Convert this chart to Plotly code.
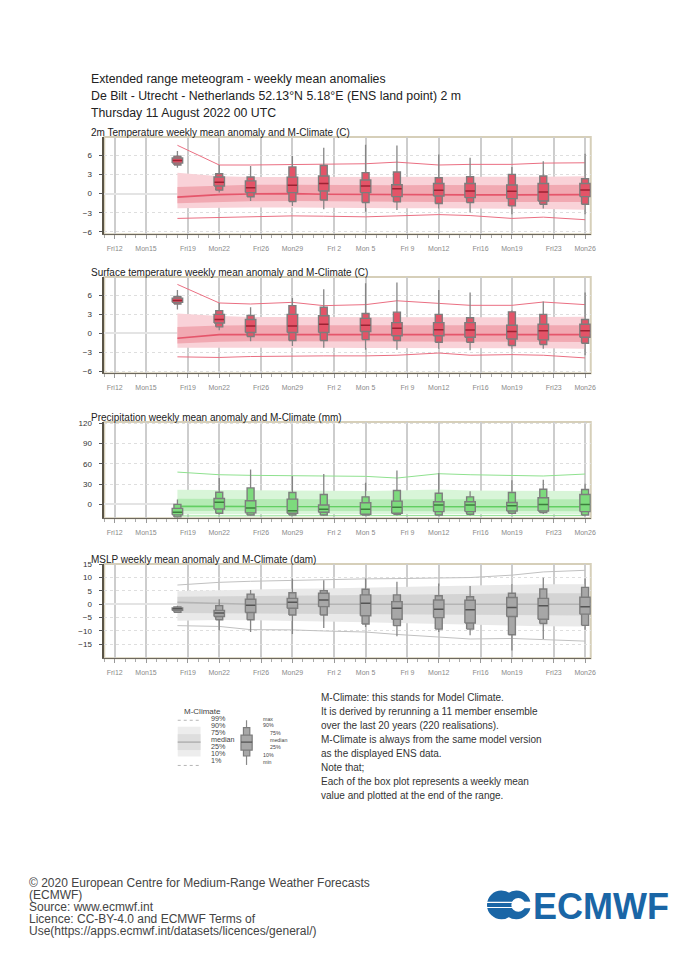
import plotly.graph_objects as go
import pandas as pd

W, H = 700, 966

# ---------------- data ----------------
box_dates = ["2022-08-18", "2022-08-22", "2022-08-25", "2022-08-29", "2022-09-01", "2022-09-05",
             "2022-09-08", "2022-09-12", "2022-09-15", "2022-09-19", "2022-09-22", "2022-09-26"]

tick_dates = ["2022-08-12", "2022-08-15", "2022-08-19", "2022-08-22", "2022-08-26", "2022-08-29",
              "2022-09-02", "2022-09-05", "2022-09-09", "2022-09-12", "2022-09-16", "2022-09-19",
              "2022-09-23", "2022-09-26"]
tick_labels = ["Fri12", "Mon15", "Fri19", "Mon22", "Fri26", "Mon29", "Fri 2", "Mon 5", "Fri 9",
               "Mon12", "Fri16", "Mon19", "Fri23", "Mon26"]

# 2m temperature (C)
t2m_max = [6.7, 4.5, 4.33, 5.9, 7.2, 7.7, 7.56, 6.15, 5.63, 4.17, 5.1, 6.26]
t2m_p90 = [5.9, 3.13, 2.62, 4.2, 4.43, 3.3, 3.4, 2.5, 2.66, 3.03, 2.76, 2.35]
t2m_p75 = [5.6, 2.61, 2.0, 2.6, 2.76, 2.14, 1.4, 1.6, 1.6, 1.35, 1.6, 1.6]
t2m_med = [5.22, 1.8, 0.94, 1.3, 1.6, 1.2, 0.78, 0.52, 0.42, 0.37, 0.26, 0.57]
t2m_p25 = [4.8, 1.2, 0.16, 0.16, 0.42, 0.16, -0.47, -0.37, -0.63, -0.78, -1.15, -0.47]
t2m_p10 = [4.5, 0.55, -0.5, -1.25, -1.0, -1.4, -1.3, -1.56, -1.4, -1.93, -1.67, -1.67]
t2m_min = [4.07, 0.16, -1.15, -1.93, -2.45, -2.87, -2.56, -2.35, -2.97, -3.23, -2.35, -3.23]
t2m_c99 = [7.6, 4.5, 4.5, 4.55, 4.6, 4.7, 4.95, 4.5, 4.6, 4.6, 4.8, 4.85]
t2m_c90 = [3.3, 2.75, 2.6, 2.6, 2.6, 2.6, 2.55, 2.6, 2.55, 2.6, 2.65, 2.75]
t2m_c75 = [1.05, 1.3, 1.4, 1.4, 1.35, 1.3, 1.3, 1.35, 1.3, 1.3, 1.35, 1.4]
t2m_c50 = [-0.55, -0.15, -0.05, 0.0, -0.1, -0.15, -0.2, -0.15, -0.2, -0.2, -0.2, -0.15]
t2m_c25 = [-1.5, -1.3, -1.2, -1.15, -1.2, -1.25, -1.3, -1.3, -1.3, -1.3, -1.3, -1.3]
t2m_c10 = [-2.3, -2.2, -2.2, -2.2, -2.25, -2.3, -2.3, -2.3, -2.3, -2.35, -2.4, -2.55]
t2m_c01 = [-3.9, -3.75, -3.6, -3.5, -3.55, -3.65, -3.5, -3.3, -3.45, -3.9, -3.7, -4.1]

# Surface temperature (C)
skt_max = [6.86, 4.8, 4.12, 5.57, 6.96, 7.9, 8.04, 6.86, 6.44, 3.6, 5.05, 6.44]
skt_p90 = [5.82, 3.6, 2.83, 4.38, 4.12, 3.14, 3.35, 3.0, 2.47, 3.4, 3.0, 2.2]
skt_p75 = [5.57, 3.0, 2.2, 3.0, 2.78, 2.37, 1.7, 1.7, 1.7, 1.29, 1.44, 1.44]
skt_med = [5.2, 2.2, 1.18, 1.18, 1.44, 1.29, 0.82, 0.57, 0.52, 0.3, 0.4, 0.4]
skt_p25 = [4.9, 1.65, 0.15, 0.15, 0.15, 0.3, -0.36, -0.36, -0.62, -0.88, -1.03, -0.62]
skt_p10 = [4.64, 1.03, -0.5, -1.13, -1.13, -0.98, -1.13, -1.4, -1.4, -1.9, -1.75, -1.55]
skt_min = [3.76, 0.5, -1.24, -2.0, -2.27, -2.58, -2.58, -2.42, -2.68, -2.42, -2.42, -3.45]
skt_c99 = [7.73, 4.8, 4.64, 4.9, 4.38, 4.54, 5.15, 4.8, 4.43, 4.43, 4.95, 4.54]
skt_c90 = [3.14, 2.73, 2.6, 2.58, 2.58, 2.58, 2.55, 2.58, 2.55, 2.55, 2.6, 2.63]
skt_c75 = [1.0, 1.25, 1.3, 1.3, 1.3, 1.25, 1.25, 1.3, 1.25, 1.25, 1.3, 1.3]
skt_c50 = [-0.77, -0.2, -0.2, -0.2, -0.2, -0.2, -0.22, -0.2, -0.22, -0.22, -0.22, -0.2]
skt_c25 = [-1.6, -1.3, -1.25, -1.25, -1.25, -1.3, -1.3, -1.3, -1.3, -1.3, -1.35, -1.35]
skt_c10 = [-2.27, -2.25, -2.25, -2.25, -2.25, -2.3, -2.3, -2.3, -2.3, -2.35, -2.35, -2.42]
skt_c01 = [-3.7, -3.8, -3.65, -3.55, -3.55, -3.55, -3.45, -3.1, -3.45, -3.35, -3.45, -3.87]

# Precipitation (mm)
tp_max = [7.3, 39, 51.7, 42, 44.9, 32.2, 50.2, 46.3, 19.5, 35.6, 36.6, 30.7]
tp_p90 = [0, 18, 24.4, 17.6, 14.6, 11.2, 20.5, 16.6, 11.2, 17.6, 22.4, 22]
tp_p75 = [-5.9, 8.8, 5.5, 7.8, -1, 2.4, 4.9, 3.9, 3.9, 2.9, 9.8, 14.6]
tp_med = [-11.7, 3.0, -5.5, -9.3, -7.3, -7.3, -4.4, -1, -1, -2, 0, 0]
tp_p25 = [-15.5, -6.9, -12.5, -13.2, -11.7, -14.6, -13.2, -10.7, -10.7, -9.8, -9.8, -10.7]
tp_p10 = [-18.5, -13.2, -15.6, -15.6, -15.6, -15.6, -14.6, -15.6, -14.6, -13.2, -12.2, -15.6]
tp_min = [-19.5, -14.8, -16.6, -16.6, -16.6, -16.6, -16.6, -16.6, -16.6, -14.6, -14.1, -16.6]
tp_c99 = [47.8, 43.9, 43.0, 42.5, 42.0, 41.5, 39.0, 45.4, 43.9, 42.9, 42.0, 44.9]
tp_c90 = [21.5, 21.0, 20.5, 20.5, 20.0, 20.0, 20.5, 22.0, 20.5, 20.0, 20.0, 20.0]
tp_c75 = [8.5, 8.0, 7.5, 7.5, 7.5, 7.5, 7.5, 8.0, 7.5, 7.5, 7.5, 7.5]
tp_c50 = [-3.0, -3.0, -3.2, -3.3, -3.3, -3.3, -3.4, -3.0, -3.2, -3.3, -3.3, -3.3]
tp_c25 = [-9.8, -9.8, -10, -10, -10, -10, -10.2, -9.8, -10, -10, -10, -10]
tp_c10 = [-14.6, -14.6, -14.8, -14.8, -14.8, -14.8, -15, -14.6, -14.8, -14.8, -14.8, -14.8]
tp_c01 = [-17.1, -16.8, -16.6, -16.6, -16.6, -16.6, -16.6, -16.6, -16.6, -16.6, -16.6, -16.6]

# MSLP (dam)
msl_max = [-0.6, 1.85, 5.3, 9.6, 9.0, 9.6, 8.4, 7.8, 6.8, 7.5, 9.9, 9.6]
msl_p90 = [-1.0, -0.5, 3.8, 4.3, 5.1, 5.6, 3.5, 3.2, 2.8, 4.1, 5.7, 6.3]
msl_p75 = [-1.4, -2.3, 1.85, 2.2, 4.1, 3.5, 1.0, 1.6, 1.5, 2.5, 2.2, 2.6]
msl_med = [-1.7, -3.3, -0.4, 0.74, 1.6, 0.4, -1.5, -1.85, -2.1, -1.2, -0.6, -0.9]
msl_p25 = [-2.3, -4.6, -3.1, -1.5, -0.9, -4.3, -5.6, -5.0, -7.0, -4.6, -5.6, -3.7]
msl_p10 = [-3.0, -5.8, -5.8, -4.0, -4.0, -7.4, -8.0, -9.3, -9.3, -11.4, -7.2, -7.9]
msl_min = [-3.3, -9.8, -10.4, -11.1, -8.9, -8.5, -12.0, -10.4, -11.6, -17.3, -13.0, -9.5]
msl_c99 = [7.2, 8.2, 8.6, 9.0, 9.3, 9.5, 9.6, 9.8, 10.0, 10.9, 12.1, 12.7]
msl_c90 = [4.9, 5.3, 5.6, 5.8, 5.9, 6.2, 6.5, 6.8, 7.1, 7.4, 7.5, 7.5]
msl_c75 = [2.8, 3.0, 3.2, 3.3, 3.4, 3.5, 3.6, 3.8, 3.9, 4.0, 4.1, 4.1]
msl_c50 = [0.7, 0.2, 0.0, 0.0, 0.0, 0.0, 0.0, 0.0, 0.0, 0.0, 0.0, 0.0]
msl_c25 = [-3.3, -3.4, -3.5, -3.6, -3.7, -3.8, -3.9, -4.0, -4.1, -4.1, -4.2, -4.2]
msl_c10 = [-6.2, -5.9, -6.0, -6.2, -6.4, -6.7, -7.0, -7.4, -7.7, -8.0, -8.2, -8.3]
msl_c01 = [-8.0, -8.3, -9.5, -9.6, -10.0, -10.4, -11.3, -12.3, -13.0, -12.8, -13.2, -13.8]

panel_titles = ["2m Temperature weekly mean anomaly and M-Climate (C)",
                "Surface temperature weekly mean anomaly and M-Climate (C)",
                "Precipitation weekly mean anomaly and M-Climate (mm)",
                "MSLP weekly mean anomaly and M-Climate (dam)"]

header_lines = ["Extended range meteogram - weekly mean anomalies",
                "De Bilt - Utrecht - Netherlands 52.13°N 5.18°E (ENS land point) 2 m",
                "Thursday 11 August 2022 00 UTC"]

note_lines = ["M-Climate: this stands for Model Climate.",
              "It is derived by rerunning a 11 member ensemble",
              "over the last 20 years (220 realisations).",
              "M-Climate is always from the same model version",
              "as the displayed ENS data.",
              "Note that;",
              "Each of the box plot represents a weekly mean",
              "value and plotted at the end of the range."]

footer_lines = ["© 2020 European Centre for Medium-Range Weather Forecasts",
                "(ECMWF)",
                "Source: www.ecmwf.int",
                "Licence: CC-BY-4.0 and ECMWF Terms of",
                "Use(https://apps.ecmwf.int/datasets/licences/general/)"]

key_left_labels = ["99%", "90%", "75%", "median", "25%", "10%", "1%"]
key_right_labels = ["max", "90%", "75%", "median", "25%", "10%", "min"]

# ---------------- helpers ----------------
FONT = "Liberation Sans, Arial, sans-serif"


def px(x):
    return x / W


def py(y):
    return 1 - y / H


dts = pd.to_datetime(box_dates)
HALF_WIDE = pd.Timedelta(hours=12)
HALF_NARROW = pd.Timedelta(hours=8)


def rects(lo, hi, half):
    xs, ys = [], []
    for d, a, b in zip(dts, lo, hi):
        xs += [d - half, d + half, d + half, d - half, d - half, None]
        ys += [a, a, b, b, a, None]
    return xs, ys


def segs_h(vals, half):
    xs, ys = [], []
    for d, v in zip(dts, vals):
        xs += [d - half, d + half, None]
        ys += [v, v, None]
    return xs, ys


def segs_v(lo, hi):
    xs, ys = [], []
    for d, a, b in zip(dts, lo, hi):
        xs += [d, d, None]
        ys += [a, b, None]
    return xs, ys


panels = [
    dict(data=(t2m_max, t2m_p90, t2m_p75, t2m_med, t2m_p25, t2m_p10, t2m_min),
         clim=(t2m_c99, t2m_c90, t2m_c75, t2m_c50, t2m_c25, t2m_c10, t2m_c01),
         top=134, bot=232, rng=[-6.4, 8.9], ticks=[-6, -3, 0, 3, 6],
         fill="#e35468", med="#9c2233", outer="#f9d2d8", inner="#f1a9b2",
         cmed="#e5566b", cext="#ea6f82"),
    dict(data=(skt_max, skt_p90, skt_p75, skt_med, skt_p25, skt_p10, skt_min),
         clim=(skt_c99, skt_c90, skt_c75, skt_c50, skt_c25, skt_c10, skt_c01),
         top=275, bot=372, rng=[-6.3, 8.9], ticks=[-6, -3, 0, 3, 6],
         fill="#e35468", med="#9c2233", outer="#f9d2d8", inner="#f1a9b2",
         cmed="#e5566b", cext="#ea6f82"),
    dict(data=(tp_max, tp_p90, tp_p75, tp_med, tp_p25, tp_p10, tp_min),
         clim=(tp_c99, tp_c90, tp_c75, tp_c50, tp_c25, tp_c10, tp_c01),
         top=421, bot=518, rng=[-20.5, 122], ticks=[0, 30, 60, 90, 120],
         fill="#7ddb7d", med="#3d7f3d", outer="#d8f5d8", inner="#b5ebb5",
         cmed="#62cf62", cext="#8fe18f"),
    dict(data=(msl_max, msl_p90, msl_p75, msl_med, msl_p25, msl_p10, msl_min),
         clim=(msl_c99, msl_c90, msl_c75, msl_c50, msl_c25, msl_c10, msl_c01),
         top=564, bot=659, rng=[-20.2, 15.1], ticks=[-15, -10, -5, 0, 5, 10, 15],
         fill="#a7a7a7", med="#555555", outer="#e9e9e9", inner="#d4d4d4",
         cmed="#b4b4b4", cext="#c0c0c0"),
]

fig = go.Figure()
shapes = []
annotations = []
layout = {}

for i, p in enumerate(panels, start=1):
    xa = "x" if i == 1 else f"x{i}"
    ya = "y" if i == 1 else f"y{i}"
    mx, p90, p75, md, p25, p10, mn = p["data"]
    c99, c90, c75, c50, c25, c10, c01 = p["clim"]
    common = dict(xaxis=xa, yaxis=ya, showlegend=False, hoverinfo="skip")

    # climate bands
    fig.add_trace(go.Scatter(x=dts, y=c10, mode="lines", line=dict(width=0), **common))
    fig.add_trace(go.Scatter(x=dts, y=c90, mode="lines", line=dict(width=0), fill="tonexty",
                             fillcolor=p["outer"], **common))
    fig.add_trace(go.Scatter(x=dts, y=c25, mode="lines", line=dict(width=0), **common))
    fig.add_trace(go.Scatter(x=dts, y=c75, mode="lines", line=dict(width=0), fill="tonexty",
                             fillcolor=p["inner"], **common))
    fig.add_trace(go.Scatter(x=dts, y=c50, mode="lines", line=dict(color=p["cmed"], width=1.6), **common))
    fig.add_trace(go.Scatter(x=dts, y=c99, mode="lines", line=dict(color=p["cext"], width=1), **common))
    fig.add_trace(go.Scatter(x=dts, y=c01, mode="lines", line=dict(color=p["cext"], width=1), **common))

    # whiskers
    wx, wy = segs_v(mn, mx)
    fig.add_trace(go.Scatter(x=wx, y=wy, mode="lines", line=dict(color="#858585", width=1.3), **common))
    # narrow 10-90 boxes
    bx, by = rects(p10, p90, HALF_NARROW)
    fig.add_trace(go.Scatter(x=bx, y=by, mode="lines", fill="toself", fillcolor=p["fill"],
                             line=dict(color="#7d7d7d", width=1.4), **common))
    # wide 25-75 boxes
    bx, by = rects(p25, p75, HALF_WIDE)
    fig.add_trace(go.Scatter(x=bx, y=by, mode="lines", fill="toself", fillcolor=p["fill"],
                             line=dict(color="#7d7d7d", width=1.4), **common))
    # medians
    mxs, mys = segs_h(md, HALF_WIDE - pd.Timedelta(hours=1))
    fig.add_trace(go.Scatter(x=mxs, y=mys, mode="lines", line=dict(color=p["med"], width=1.5), **common))

    layout["xaxis" if i == 1 else f"xaxis{i}"] = dict(
        domain=[px(105), px(595)], anchor=ya, type="date",
        range=["2022-08-11 00:00", "2022-09-26 13:00"],
        tickvals=tick_dates, ticktext=tick_labels,
        showgrid=True, gridcolor="#cdcdcd", gridwidth=1.5,
        ticks="outside", ticklen=4, tickcolor="#999999", ticklabelstandoff=3,
        tickfont=dict(size=7, color="#8a8a8a", family=FONT),
        showline=True, linecolor="#6d685e", linewidth=1.2, zeroline=False,
        minor=dict(dtick=86400000, ticks="outside", ticklen=3, tickcolor="#aaaaaa", showgrid=False),
        fixedrange=True)
    layout["yaxis" if i == 1 else f"yaxis{i}"] = dict(
        domain=[py(p["bot"]), py(p["top"])], anchor=xa, range=p["rng"],
        tickvals=p["ticks"], showgrid=True, gridcolor="#dedede", griddash="dot", gridwidth=1,
        ticks="outside", ticklen=4, tickcolor="#555555", ticklabelstandoff=5,
        tickfont=dict(size=8, color="#333333", family=FONT),
        showline=True, linecolor="#5a5446", linewidth=1.5,
        zeroline=True, zerolinecolor="#e4e4e4", zerolinewidth=1.5, fixedrange=True)

    # frame (tan top / right)
    shapes.append(dict(type="rect", xref=f"{xa} domain", yref=f"{ya} domain", x0=0, x1=1, y0=0, y1=1,
                       line=dict(color="#d6cfb9", width=2), layer="below"))
    # panel title
    annotations.append(dict(text=panel_titles[i - 1], x=px(90), y=py(p["top"] - 4.5), xref="paper",
                            yref="paper", xanchor="left", yanchor="middle", showarrow=False,
                            font=dict(size=10, color="#222222", family=FONT)))

# header
for k, line in enumerate(header_lines):
    annotations.append(dict(text=line, x=px(90), y=py(75.5 + 17.2 * k), xref="paper", yref="paper",
                            xanchor="left", yanchor="middle", showarrow=False,
                            font=dict(size=12.3, color="#222222", family=FONT)))

# notes
for k, line in enumerate(note_lines):
    annotations.append(dict(text=line, x=px(321), y=py(699 + 14.1 * k), xref="paper", yref="paper",
                            xanchor="left", yanchor="middle", showarrow=False,
                            font=dict(size=10, color="#333333", family=FONT)))

# footer
for k, line in enumerate(footer_lines):
    annotations.append(dict(text=line, x=px(27), y=py(885 + 12.1 * k), xref="paper", yref="paper",
                            xanchor="left", yanchor="middle", showarrow=False,
                            font=dict(size=12, color="#444444", family=FONT)))

# ----- M-Climate key (legend illustration) -----
def prect(x0, x1, y0, y1, fill, line=None, lw=0):
    return dict(type="rect", xref="paper", yref="paper", x0=px(x0), x1=px(x1), y0=py(y1), y1=py(y0),
                fillcolor=fill, line=dict(color=line or fill, width=lw))


def pline(x0, x1, y0, y1, color, width=1, dash="solid"):
    return dict(type="line", xref="paper", yref="paper", x0=px(x0), x1=px(x1), y0=py(y0), y1=py(y1),
                line=dict(color=color, width=width, dash=dash))


annotations.append(dict(text="M-Climate", x=px(183), y=py(712.5), xref="paper", yref="paper",
                        xanchor="left", yanchor="middle", showarrow=False,
                        font=dict(size=8, color="#444444", family=FONT)))
shapes.append(pline(179, 202, 721.5, 721.5, "#b5b5b5", 1, "dot"))
shapes.append(prect(179, 202, 728, 758, "#ededed"))
shapes.append(prect(179, 202, 735.5, 751.5, "#dedede"))
shapes.append(pline(179, 202, 743.5, 743.5, "#b0b0b0", 1.5))
shapes.append(pline(179, 202, 767, 767, "#b5b5b5", 1, "dot"))
for lab, yy in zip(key_left_labels, [719.5, 726.3, 733.5, 741, 748, 755.3, 762.5]):
    annotations.append(dict(text=lab, x=px(210.5), y=py(yy), xref="paper", yref="paper",
                            xanchor="left", yanchor="middle", showarrow=False,
                            font=dict(size=7.2, color="#444444", family=FONT)))
shapes.append(pline(248.3, 248.3, 721.5, 766.5, "#888888", 1.2))
shapes.append(prect(245.2, 251.6, 729, 757.5, "#a8a8a8", "#7d7d7d", 1.2))
shapes.append(prect(242.7, 254, 736.5, 751.5, "#a8a8a8", "#7d7d7d", 1.2))
shapes.append(pline(242.7, 254, 743.5, 743.5, "#555555", 1.3))
for lab, xx, yy in zip(key_right_labels, [262.5, 262.5, 270, 270, 270, 262.5, 262.5],
                       [720.5, 726.5, 734.5, 741, 748, 756.5, 763.5]):
    annotations.append(dict(text=lab, x=px(xx), y=py(yy), xref="paper", yref="paper",
                            xanchor="left", yanchor="middle", showarrow=False,
                            font=dict(size=5.3, color="#444444", family=FONT)))

# ----- ECMWF logo -----
BLUE = "#1a66a6"


def pcircle(cx, cy, r, fill):
    return dict(type="circle", xref="paper", yref="paper", x0=px(cx - r), x1=px(cx + r),
                y0=py(cy + r), y1=py(cy - r), fillcolor=fill, line=dict(width=0))


shapes.append(pcircle(505, 907.5, 14.5, BLUE))
shapes.append(pcircle(520, 907.5, 14.5, BLUE))
shapes.append(pcircle(522, 907.5, 7.0, "white"))
shapes.append(prect(522, 536, 904.2, 910.8, "white"))
shapes.append(prect(489, 522, 904.3, 905.5, "white"))
shapes.append(prect(489, 522, 909.5, 910.7, "white"))
annotations.append(dict(text="<b>ECMWF</b>", x=px(676), y=py(909), xref="paper", yref="paper",
                        xanchor="right", yanchor="middle", showarrow=False,
                        font=dict(size=36, color=BLUE, family=FONT)))

fig.update_layout(
    width=W, height=H, autosize=False,
    margin=dict(l=0, r=0, t=0, b=0),
    paper_bgcolor="white", plot_bgcolor="white",
    showlegend=False, shapes=shapes, annotations=annotations,
    font=dict(family=FONT),
    **layout)

fig.write_html("out.html", config={"displayModeBar": False},
               post_script="document.body.style.margin='0px';document.body.style.overflow='hidden';")
